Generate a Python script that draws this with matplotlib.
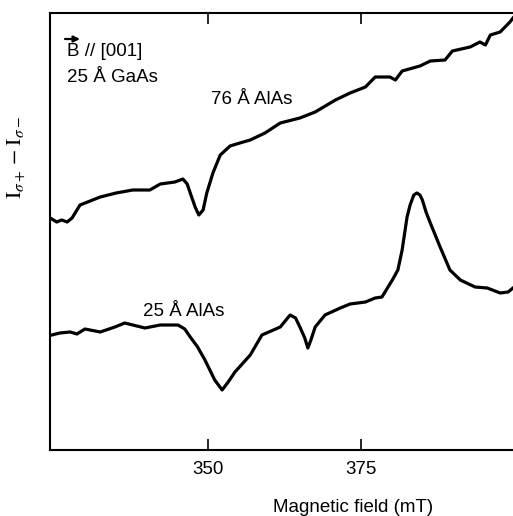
import numpy as np
import matplotlib
matplotlib.use('Agg')
import matplotlib.pyplot as plt

# upper trace: 76 A AlAs
field_76 = [324.5, 325.3, 326.1, 327.0, 327.8, 329.1, 332.4, 335.0, 337.7, 340.5, 342.2,
            344.6, 345.9, 346.6, 347.1, 347.9, 348.5, 349.2, 349.8, 350.3, 350.8, 352.0,
            353.6, 355.2, 356.9, 359.3, 361.8, 365.0, 367.5, 370.8, 373.2, 375.7,
            377.3, 379.7, 380.6, 381.7, 384.6, 386.3, 388.7, 389.9, 392.8, 394.4,
            395.3, 396.1, 397.7, 399.3, 399.8]
signal_76 = [231, 228, 230, 228, 232, 245, 253, 257, 260, 260, 266,
             268, 271, 266, 257, 243, 235, 240, 257, 267, 277, 295,
             304, 307, 310, 317, 327, 332, 338, 350, 357, 363,
             373, 373, 370, 379, 384, 389, 390, 399, 403, 408,
             405, 415, 418, 428, 432]

# lower trace: 25 A AlAs
field_25 = [324.5, 325.8, 327.5, 328.6, 329.9, 332.4, 334.8, 336.4, 339.7, 342.2,
            345.1, 346.2, 347.1, 348.3, 349.5, 351.1, 352.3, 353.3, 354.4, 356.9, 358.8,
            361.8, 363.4, 364.3, 365.0, 365.8, 366.3, 366.8, 367.5, 369.1, 371.6,
            373.2, 375.7, 377.3, 378.4, 380.1, 381.0, 381.7, 382.5, 383.0, 383.6,
            384.1, 384.6, 385.0, 385.6, 386.3, 387.9, 389.5, 391.2, 393.6, 395.6,
            397.7, 399.0, 399.8]
signal_25 = [115, 117, 118, 116, 121, 118, 123, 127, 122, 125,
             125, 121, 113, 103, 90, 70, 60, 68, 78, 95, 115,
             123, 135, 132, 123, 112, 102, 110, 123, 135, 142,
             146, 148, 152, 153, 170, 180, 200, 233, 245, 255,
             257, 255, 250, 238, 227, 203, 180, 170, 163, 162,
             157, 158, 162]

xticks = [350, 375]

plt.rcParams['mathtext.fontset'] = 'stix'

fig = plt.figure(figsize=(5.13, 5.16), dpi=100)
ax = fig.add_axes([50 / 513, 66 / 516, 463 / 513, 437 / 516])

ax.plot(field_76, signal_76, color='black', lw=2.3, solid_joinstyle='round')
ax.plot(field_25, signal_25, color='black', lw=2.3, solid_joinstyle='round')

ax.set_xlim(324.2, 399.8)
ax.set_ylim(0, 437)
ax.set_xticks(xticks)
ax.set_xticklabels([str(t) for t in xticks], fontsize=13.5, family='Liberation Sans')
ax.set_yticks([])
ax.tick_params(axis='x', direction='in', length=8, width=1.2, top=True, pad=8)
ax.spines['right'].set_visible(False)
for s in ['left', 'bottom', 'top']:
    ax.spines[s].set_linewidth(1.5)

txt = dict(fontsize=13.5, family='Liberation Sans', va='center', ha='left')
ax.text(327.0, 398, 'B // [001]', **txt)
ax.text(327.0, 372, '25 Å GaAs', **txt)
ax.text(350.5, 350, '76 Å AlAs', **txt)
ax.text(339.4, 138, '25 Å AlAs', **txt)

# arrow over the B
ax.annotate('', xy=(80, 477), xytext=(65, 477), xycoords='figure pixels',
            textcoords='figure pixels',
            arrowprops=dict(arrowstyle='-|>', lw=1.6, color='black', mutation_scale=9,
                            shrinkA=0, shrinkB=0))

fig.text(17 / 513, 1 - 158 / 516, r'$\mathrm{I}_{\sigma+} - \mathrm{I}_{\sigma-}$',
         rotation=90, fontsize=16, ha='center', va='center')
fig.text(353 / 513, 1 - 507 / 516, 'Magnetic field (mT)', fontsize=13.5,
         family='Liberation Sans', ha='center', va='center')

fig.savefig('out.png', dpi=100)
